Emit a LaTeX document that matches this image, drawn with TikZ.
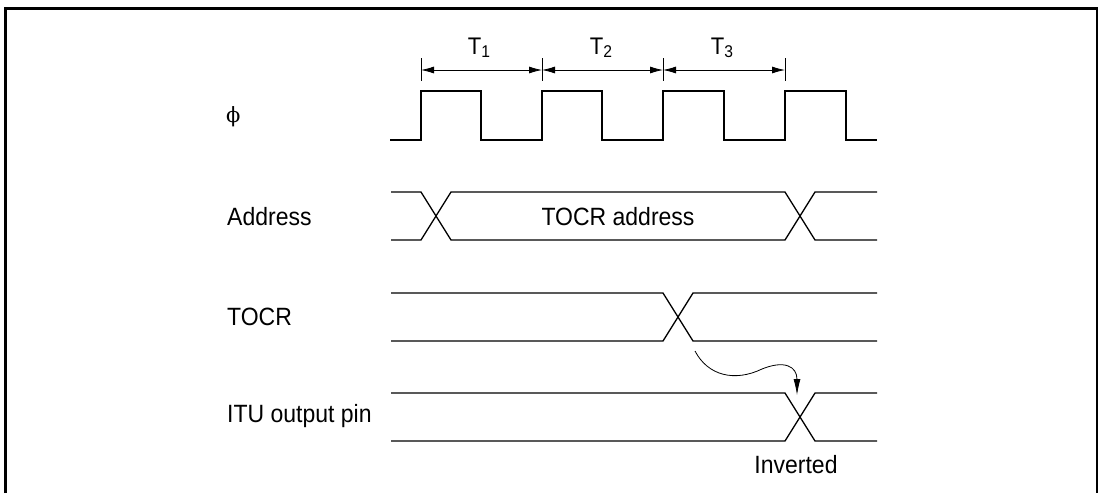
\documentclass[tikz,border=0pt]{standalone}
\usepackage{fontspec}
\setmainfont{Liberation Sans}[FakeStretch=0.92]
\newfontfamily\phifont{DejaVu Serif}
\usetikzlibrary{arrows.meta}
\newcommand{\tsub}[1]{T\raisebox{-3pt}{\fontsize{17}{20}\selectfont #1}}
\begin{document}
\begin{tikzpicture}[x=1pt,y=-1pt,
  sig/.style={line width=1.3pt, line join=miter},
  lbl/.style={anchor=west, inner sep=0pt, font=\fontsize{25}{30}\selectfont},
  txt/.style={inner sep=0pt, font=\fontsize{25}{30}\selectfont},
  tlbl/.style={inner sep=0pt, font=\fontsize{24}{28}\selectfont},
  dim/.style={line width=0.8pt, {Latex[length=13pt,width=7pt]}-{Latex[length=13pt,width=7pt]}},
  tick/.style={line width=0.8pt},
  frame/.style={line width=2.6pt}]
\useasboundingbox (0,0) rectangle (1102,493);
% frame (open at bottom)
\draw[frame] (5.5,493) -- (5.5,8.5) -- (1097,8.5) -- (1097,493);

% labels
\node[anchor=west, inner sep=0pt, font=\phifont\fontsize{21}{24}\selectfont] (phi) at (226,117) {ϕ};
\node[lbl] (addr) at (227,216.5) {Address};
\node[lbl] (tocr) at (227,316.5) {TOCR};
\node[lbl] (itu) at (227,416.5) {ITU output pin};

% dimension ticks and arrows
\foreach \x in {421,542,663,785} \draw[tick] (\x,58) -- (\x,81);
\draw[dim] (421,70) -- (542,70);
\draw[dim] (542,70) -- (663,70);
\draw[dim] (663,70) -- (785,70);
\node[tlbl] (t1) at (479,48) {\tsub{1}};
\node[tlbl] (t2) at (601,48) {\tsub{2}};
\node[tlbl] (t3) at (722,48) {\tsub{3}};

% clock
\draw[sig] (390,140) -- (421,140) -- (421,91) -- (481,91) -- (481,140)
  -- (542,140) -- (542,91) -- (602,91) -- (602,140)
  -- (663,140) -- (663,91) -- (724,91) -- (724,140)
  -- (785,140) -- (785,91) -- (846,91) -- (846,140) -- (877,140);

% Address bus
\draw[sig] (391,192) -- (421,192) -- (451,240) -- (785,240) -- (815,192) -- (877,192);
\draw[sig] (391,240) -- (421,240) -- (451,192) -- (785,192) -- (815,240) -- (877,240);
\node[txt] (tocraddr) at (618,216.5) {TOCR address};

% TOCR
\draw[sig] (391,293) -- (663,293) -- (693,341) -- (877,341);
\draw[sig] (391,341) -- (663,341) -- (693,293) -- (877,293);

% ITU output pin
\draw[sig] (391,393) -- (785,393) -- (815,441) -- (877,441);
\draw[sig] (391,441) -- (785,441) -- (815,393) -- (877,393);
\node[txt] (inv) at (796,465) {Inverted};

% cause arrow
\coordinate (cs) at (695,351);
\coordinate (ce) at (797,395);
\draw[line width=0.8pt, -{Latex[length=16pt,width=7pt]}]
  (cs) .. controls (708,376) and (735,382) .. (762,369)
       .. controls (784,360) and (797,366) .. (ce);
\end{tikzpicture}
\end{document}
